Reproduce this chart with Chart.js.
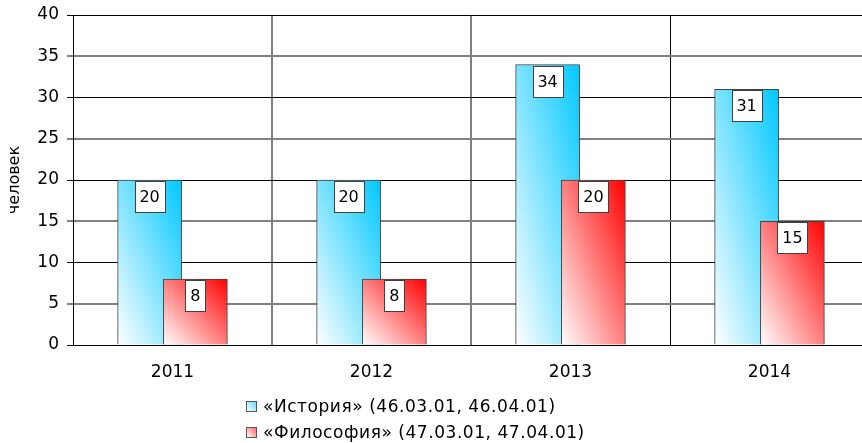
<!DOCTYPE html>
<html>
<head>
<meta charset="utf-8">
<script src="https://cdn.jsdelivr.net/npm/chart.js@4/dist/chart.umd.min.js"></script>
<style>
  html, body { margin: 0; padding: 0; background: #fff; overflow: hidden; width: 862px; height: 443px; }
  #wrap { position: absolute; left: 0; top: 0; width: 870px; height: 443px; }
  #legend { position: absolute; left: 246px; top: 393px; font-family: "DejaVu Sans", Verdana, sans-serif; font-size: 17px; letter-spacing: 0.55px; color: #000; }
  .row { height: 26px; line-height: 22px; white-space: nowrap; display: flex; align-items: center; }
  .box { display: inline-block; width: 9px; height: 9px; border: 1px solid #555; margin-right: 6px; }
</style>
</head>
<body>
<div id="wrap"><canvas id="c"></canvas></div>
<div id="legend"></div>
<script>
// ---- data ----
const categories = ['2011', '2012', '2013', '2014'];
const seriesNames = ['«История» (46.03.01, 46.04.01)', '«Философия» (47.03.01, 47.04.01)'];
const historyValues = [20, 20, 34, 31];
const philosophyValues = [8, 8, 20, 15];
const yMin = 0, yMax = 40, yStep = 5;
const yTitle = 'человек';

// ---- styles ----
const FONT = '"DejaVu Sans", Verdana, sans-serif';
const BAR_W = 64;
const SHIFT = 0.115;
const colors = [
  { c0: '#ffffff', c1: '#00c8ff', legend: 'linear-gradient(to top right, #ffffff, #66d9ff)' },
  { c0: '#ffffff', c1: '#ff0000', legend: 'linear-gradient(to top right, #ffffff, #ff6666)' }
];

function barGradient(ctx, c0, c1) {
  const chart = ctx.chart;
  const raw = ctx.raw;
  if (!chart.chartArea || !raw || !chart.scales.xb) return c1;
  const xs = chart.scales.xb, ys = chart.scales.y;
  const cx = xs.getPixelForValue(raw.x);
  const top = ys.getPixelForValue(raw.y);
  const base = ys.getPixelForValue(0);
  const w = BAR_W, h = Math.max(1, base - top);
  const x0 = cx - w / 2;
  const gx = 1 / (2 * w), gy = -1 / (2 * h);
  const g2 = gx * gx + gy * gy;
  const g = chart.ctx.createLinearGradient(x0, base, x0 + gx / g2, base + gy / g2);
  g.addColorStop(0, c0);
  g.addColorStop(1, c1);
  return g;
}

const seriesValues = [historyValues, philosophyValues];
const datasets = seriesValues.map((vals, s) => ({
  label: seriesNames[s],
  data: vals.map((v, i) => ({ x: i + (s === 0 ? -SHIFT : SHIFT), y: v })),
  xAxisID: 'xb',
  grouped: false,
  order: s === 0 ? 1 : 0,
  barThickness: BAR_W,
  backgroundColor: (ctx) => barGradient(ctx, colors[s].c0, colors[s].c1),
  borderColor: '#404040',
  borderWidth: 1
}));

const labelPlugin = {
  id: 'boxLabels',
  afterDatasetsDraw(chart) {
    const ctx = chart.ctx;
    ctx.save();
    ctx.font = '16px ' + FONT;
    chart.data.datasets.forEach((ds, di) => {
      const meta = chart.getDatasetMeta(di);
      meta.data.forEach((el, i) => {
        const txt = String(ds.data[i].y);
        const tw = ctx.measureText(txt).width;
        const bw = Math.round(tw + 10), bh = 31;
        const bx = Math.round(el.x - bw / 2) + 0.5;
        const by = Math.round(el.y + 1) + 0.5;
        ctx.fillStyle = '#ffffff';
        ctx.fillRect(bx, by, bw, bh);
        ctx.strokeStyle = '#404040';
        ctx.lineWidth = 1;
        ctx.strokeRect(bx, by, bw, bh);
        ctx.fillStyle = '#000';
        ctx.textAlign = 'center';
        ctx.textBaseline = 'middle';
        ctx.fillText(txt, el.x, by + bh / 2 + 1);
      });
    });
    ctx.restore();
  }
};

new Chart(document.getElementById('c'), {
  type: 'bar',
  data: { labels: categories, datasets },
  options: {
    responsive: true,
    maintainAspectRatio: false,
    animation: false,
    events: [],
    layout: { padding: { top: 15, bottom: 53, left: 0, right: 1 } },
    plugins: { legend: { display: false }, tooltip: { enabled: false } },
    scales: {
      xb: { type: 'linear', min: -0.5, max: 3.5, display: false, offset: false },
      x: {
        type: 'category',
        offset: true,
        afterFit: (s) => { s.height = 45; s.paddingLeft = 0; s.paddingRight = 0; },
        grid: {
          offset: true,
          drawTicks: false,
          color: (c) => (c.index === 1 || c.index === 2) ? '#808080' : '#000000',
          lineWidth: (c) => (c.index === 1 || c.index === 2) ? 2 : 1
        },
        border: { color: '#000', width: 1 },
        ticks: { color: '#000', font: { family: FONT, size: 17 }, padding: 17, maxRotation: 0 }
      },
      y: {
        min: yMin, max: yMax,
        afterFit: (s) => { s.width = 73; s.paddingTop = 0; s.paddingBottom = 0; },
        grid: {
          tickLength: 6,
          color: (c) => (c.tick && c.tick.value % 10 !== 0) ? '#808080' : '#000000',
          lineWidth: (c) => (c.tick && c.tick.value % 10 !== 0) ? 2 : 1
        },
        border: { color: '#000', width: 1 },
        ticks: { stepSize: yStep, color: '#000', font: { family: FONT, size: 17 }, padding: 8 },
        title: { display: true, text: yTitle, color: '#000', font: { family: FONT, size: 16 }, padding: { top: 5, bottom: 0 } }
      }
    }
  },
  plugins: [labelPlugin]
});

// HTML legend
const legend = document.getElementById('legend');
seriesNames.forEach((name, s) => {
  const row = document.createElement('div');
  row.className = 'row';
  const box = document.createElement('span');
  box.className = 'box';
  box.style.background = colors[s].legend;
  const t = document.createElement('span');
  t.textContent = name;
  row.appendChild(box);
  row.appendChild(t);
  legend.appendChild(row);
});
</script>
</body>
</html>
